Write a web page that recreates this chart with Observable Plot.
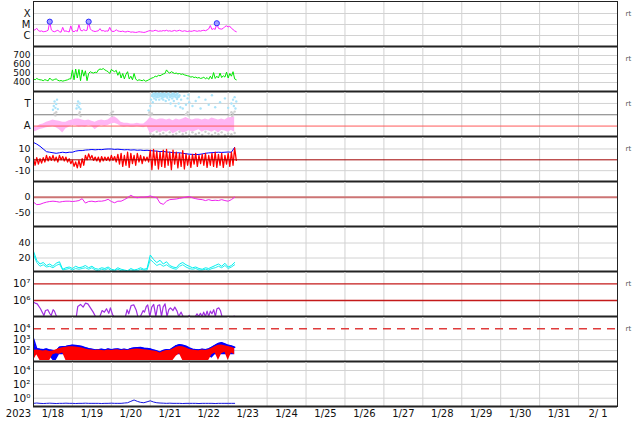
<!DOCTYPE html>
<html><head><meta charset="utf-8">
<script src="https://cdn.jsdelivr.net/npm/d3@7"></script>
<script src="https://cdn.jsdelivr.net/npm/@observablehq/plot@0.6"></script>
<style>
html,body{margin:0;padding:0;background:#fff;}
#chart{position:relative;width:634px;height:424px;overflow:hidden;background:#fff;}
#chart svg{position:absolute;left:0;}
</style></head><body><div id="chart"></div>
<script>
// ---------- time axis ----------
const T0 = Date.UTC(2023, 0, 18);
const HOUR = 3600000;
const yearLabel = "2023";
const dayLabels = ["1/18","1/19","1/20","1/21","1/22","1/23","1/24","1/25","1/26","1/27","1/28","1/29","1/30","1/31","2/ 1"];

// ---------- panel 1: X-ray flux (1e-6 W/m2), hourly from 1/18 00UT ----------
const xrayTicks = [1, 10, 100];
const xrayLabels = ["C", "M", "X"];
const xrayFlux = [3.0,3.3,4.5,2.8,2.4,2.6,2.2,2.3,2.5,3.0,18,3.2,2.4,2.2,2.6,3.0,2.2,2.0,5.5,2.4,
 2.6,2.3,2.1,7.5,2.5,2.2,2.8,2.4,9.5,3.0,2.6,3.4,2.8,3.0,18,4.0,2.8,2.5,2.3,2.5,
 2.7,4.2,2.6,2.8,2.4,2.6,2.5,5.5,2.6,2.3,2.5,3.3,2.6,2.4,2.3,2.5,2.2,2.1,2.4,2.3,
 2.0,2.1,2.0,1.9,2.0,2.2,2.1,2.0,1.9,2.0,2.3,2.6,2.8,2.5,2.6,3.0,2.7,2.4,2.6,2.5,
 2.8,2.6,3.0,2.5,2.7,2.4,2.6,2.9,2.5,2.7,3.0,2.6,2.4,2.7,2.5,2.3,2.6,2.4,2.5,2.8,
 2.6,2.4,2.7,2.5,2.8,3.0,2.7,3.2,4.0,8.0,3.5,4.2,3.6,13,4.5,4.0,3.8,4.5,6.5,7.5,
 6.0,7.0,4.5,3.5,2.6,2.2];
const flareHours = [10, 34, 113];
const flareFlux = [18, 18, 13];

// ---------- panel 2: solar wind speed (km/s), hourly ----------
const speedTicks = [400, 500, 600, 700];
const speed = [440,430,445,435,430,428,420,432,425,418,450,430,425,435,440,425,418,422,415,420,
 425,430,440,440,540,430,550,450,545,420,540,470,530,420,500,520,510,505,515,510,
 540,550,545,555,540,530,520,500,545,530,520,535,480,520,450,500,440,490,520,440,
 470,430,500,440,420,430,425,420,430,415,420,430,440,450,455,470,465,480,475,485,
 495,500,540,515,505,520,510,500,505,495,500,490,495,485,480,475,470,460,465,455,
 460,450,455,445,450,460,440,455,435,470,440,510,445,470,450,505,455,475,460,515,
 450,500,470,520,440,430];

// ---------- panel 3: IMF phi (deg), sector Away / Toward ----------
const phiTicks = [90, 270];
const phiLabels = ["A", "T"];
const awayLo = [41,50,62,68,76,81,86,76,60,35,68,81,94,94,81,86,81,94,86,60,81,94,86,94,107,112,102,86,81,86,81,81,86,81,76,86,29,41,55,35,50,41,55,29,41,55,35,41,55,41,50,60,41,55,50,41,55,35,55,50,41,55,41];
const awayHi = [87,81,100,107,120,128,138,133,128,120,120,133,138,146,146,138,133,138,128,120,133,138,133,138,159,164,146,120,112,112,107,107,112,107,107,128,159,146,138,146,146,138,146,133,146,138,146,159,146,138,146,146,138,146,138,154,146,138,146,138,154,159,164];
const towardHours = [12,12.5,13,13.5,14,14.5,15, 26.5,27,27.5,28,28.5,29,
 71,72,72.5,73,73.5,74,74.5,75,75.5,76,76.5,77,77.5,78,78.5,79,79.5,80,80.5,81,81.5,82,82.5,83,83.5,84,84.5,85,85.5,86,86.5,87,87.5,88,88.5,89,89.5,90,90.5,91,92,93,94,95,95.5,96,
 98,100,102,103,106,108,110,112,115,118,120,122,123,123.5,124,124.5,125,
 73.25,73.75,74.25,74.75,75.25,75.75,76.25,76.75,77.25,77.75,78.25,78.75,79.25,79.75,80.25,80.75,81.25,81.75,82.25,82.75,83.25,83.75,84.25,84.75,85.25,85.75,86.25,86.75,87.25,87.75,88.25,88.75,89.25,89.75];
const towardPhi = [220,250,285,235,265,300,225, 230,255,285,240,270,225,
 215,250,300,330,280,345,310,335,300,340,320,345,300,330,345,310,335,300,345,325,290,340,315,345,300,330,270,340,310,345,290,330,250,340,305,320,270,335,240,300,230,330,260,310,340,280,
 250,290,320,230,300,260,335,240,280,310,235,270,300,250,320,230,285,
 340,325,350,330,345,320,350,335,340,325,350,330,345,320,335,350,340,330,325,345,350,335,320,340,330,350,325,345,335,320,340,350,330,325];
const grayHours = [13,13.5,14,28,28.5,29,47,48,48.5,49,71,71.5,72,73,94,95,95.5,121,122,122.5,123,124,
 72,74,76,78,80,82,84,86,88,90,92,94,96,98,100,102,104,106,108,110,112,114,116,118,120,122,124];
const grayPhi = [190,175,200,185,200,170,180,195,170,205,180,200,175,190,185,200,175,180,200,170,190,205,
 30,20,45,25,35,15,40,20,30,45,25,35,20,40,25,35,20,45,30,20,35,25,40,20,30,25,35];

// ---------- panel 4: IMF Bt / Bz (nT), 2-hourly ----------
const bTicks = [-10, 0, 10];
const bLabels = ["-10", "0", "10"];
const bt = [16,14.5,12.5,10,7.5,7,6.5,6,6.5,7, 6.5,7,7,8,8.5,8.5,9,9.2,9.5,9.2, 9.5,9.4,9.8,10,10,9.6,9.8,9.5,9.2,9.4,
 9.0,9.2,8.8,9.0,8.6,8.8,8.5,8.2,8.0,7.6, 7.8,7.2,7.0,6.6,6.4,6.5,6.0,5.6,5.2,5.0, 4.8,5.0,5.4,6.0,6.4,6.6,6.8,7.0,6.8,7.0, 7.2,7.0,11.5];
const bzHi = [1,2,1,2,4,3,4,2.5,4,3, 2.5,1,-0.5,-2,-0.5,1,4,5.5,4,2.5, 2.5,3,2.5,2.5,4,3,5,6,4,7,
 6,4,6,4,3,2.5,9,9.5,8,7, 9,9.5,7,9,7,6,8.5,5.5,4,5, 6,4,5,6,4,6,7,5,6,4, 6,7,11];
const bzLo = [-5,-4,-3,-2,-1,-0.5,-1,-2,0,-1, -2,-3.5,-6,-7.5,-7,-5,0,1,-0.5,-1, -2,-1,-0.5,-1,-0.5,-2,-4,-6,-5,-7,
 -3.5,-5,-2,-3.5,-1,-2,-9,-5,-8.5,-6, -7,-5,-9,-4,-7.5,-6,-8.5,-5,-7,-4, -6,-3.5,-5,-7,-5,-6,-7,-5,-7,-4, -6,-5,-0.5];

// ---------- panel 5: Dst (nT), 2-hourly ----------
const dstTicks = [-50, 0];
const dstLabels = ["-50", "0"];
const dst = [-16,-24,-23,-19,-16,-14,-13,-14,-16,-14, -13,-13,-14,-13,-11,-5,-19,-14,-13,-15,
 -13,-13,-11,-7,-14,-18,-13,-13,-8,-2, 6,0,-2,0,0,1,4,0,-2,-19,
 -23,-13,-8,-7,-6,-4,-2,0,2,-2, -5,-7,-8,-11,-8,-11,-10,-11,-8,-11, -13,-8,0];

// ---------- panel 6: cyan pair, 2-hourly ----------
const cyTicks = [20, 40];
const cyanA = [29,17,12,14,10,12,9,13,15,5, 7,8,6,9,7,8,10,7,9,6, 5,7,6,8,5,4,7,5,4,3, 6,4,5,7,5,6,24,18,14,17,
 12,15,10,8,7,12,14,11,9,7, 8,6,5,7,6,8,10,12,9,13, 8,10,14];
const cyanB = [25,14,9,11,8,9,7,10,12,4, 5,6,4,6,5,6,7,5,7,4, 3,5,4,6,3,3,5,3,3,2, 4,3,3,5,4,4,18,14,10,12,
 9,11,8,6,5,9,11,8,6,5, 6,4,4,5,4,6,7,9,7,10, 6,8,11];

// ---------- panel 7: electron flux (segments separated by null) ----------
const elTicks = [1e6, 1e7];
const elLabels = ["10\u2076", "10\u2077"];
const elecHours = [0,1,2.3,4.3,6.4,7.4,8.8,10.1,10.9,12.1,12.9,14.2, null,
 26.5,27.3,29,30.6,32,33.5,35.1,36.8,38.2, null,
 40.9,42.3,43.7,45,46.4,47.4,48.7,49.5, null,
 56.7,57.7,58.7,60.2,61.8,63.4,64.3, null,
 65.9,67.6,68.4,69.6,70.4,71.7,72.9,74.1,75.4,76.6,77.8,78.9,79.9,81.1,82.3,83.4,84.4,86.0,87.1,88.5,89.5,91,92.2, null,
 95.5,96.2, null,
 99.8,100.8,101.8,102.9,103.9,104.9,106,107,108,109,110,111.1,112.1,113.1,114.2,115.2,116.2, null,
 123.2,123.8];
const elecFlux = [7.9e5,7.0e5,6.3e5,3.2e5,1.26e5,2.5e5,2.8e5,1.6e5,1.26e5,2.8e5,2.3e5,1.1e5, null,
 1.26e5,4.4e5,5.8e5,4.0e5,6.9e5,6.3e5,3.6e5,2.0e5,1.1e5, null,
 1.1e5,2.5e5,2.0e5,3.2e5,1.7e5,3.6e5,1.45e5,1.1e5, null,
 1.1e5,2.8e5,1.6e5,5.0e5,5.5e5,2.5e5,1.1e5, null,
 1.1e5,2.5e5,2.0e5,4.5e5,5.5e5,1.1e5,4.0e5,5.8e5,1.1e5,5.0e5,5.5e5,1.1e5,4.0e5,6.3e5,1.1e5,2.8e5,3.6e5,2.5e5,4.0e5,2.3e5,1.1e5,2.0e5,1.1e5, null,
 1.15e5,1.3e5, null,
 1.1e5,1.6e5,1.1e5,1.7e5,1.1e5,2.0e5,1.1e5,2.3e5,1.1e5,2.3e5,1.6e5,2.8e5,1.1e5,3.2e5,3.6e5,2.5e5,1.1e5, null,
 1.1e5,1.15e5];

// ---------- panel 8: proton channels, 2-hourly max / min ----------
const prTicks = [1e2, 1e3, 1e4];
const prLabels = ["10\u00B2", "10\u00B3", "10\u2074"];
const blueHi = [1200,150,130,120,140,110,100,90,200,220, 240,270,300,290,260,230,180,150,130,110,
 120,130,110,140,120,130,140,120,130,110, 150,170,180,190,160,150,140,110,90,70,
 100,120,110,180,280,340,300,250,170,130, 120,110,130,120,140,200,300,450,520,400, 300,260,200];
const blueLo = [60,40,40,40,40,30,12,12,40,40, 40,40,40,40,40,30,40,40,40,40, 40,40,40,40,40,40,40,40,40,40,
 40,40,40,40,40,40,30,20,12,12, 30,40,40,40,40,40,40,40,25,40, 40,40,40,40,30,20,40,40,40,40, 40,40,40];
const redHi = [100,110,100,90,100,80,90,120,150,180, 200,220,220,210,190,170,140,120,110,100,
 110,100,95,110,100,110,120,100,110,100, 120,130,140,130,120,110,100,90,80,60,
 80,100,100,140,200,230,220,180,130,110, 100,95,110,100,120,160,230,300,330,280, 230,200,150];
const redLo = [12,40,12,12,12,12,40,50,45,60, 12,12,12,12,12,12,12,12,12,12, 12,12,12,12,12,12,12,12,12,12,
 12,12,12,12,12,12,12,12,12,12, 12,12,12,12,30,50,12,12,12,12, 12,12,12,12,12,40,60,12,50,70, 12,60,40];

// ---------- panel 9: high-energy channel, 2-hourly ----------
const hiTicks = [1, 1e2, 1e4];
const hiLabels = ["10\u2070", "10\u00B2", "10\u2074"];
const hiFlux = [0.18,0.2,0.18,0.17,0.18,0.19,0.18,0.17,0.18,0.18, 0.19,0.18,0.18,0.17,0.18,0.18,0.19,0.18,0.18,0.18,
 0.18,0.17,0.18,0.18,0.19,0.18,0.18,0.18,0.2,0.22, 0.35,0.55,0.35,0.25,0.22,0.3,0.42,0.28,0.22,0.2,
 0.19,0.18,0.19,0.18,0.18,0.18,0.17,0.18,0.18,0.18, 0.18,0.17,0.18,0.18,0.18,0.18,0.17,0.18,0.18,0.18, 0.18,0.18,0.18];

// ---------- helpers ----------
const t = h => (h == null ? null : new Date(T0 + h * HOUR));
const xDomain = [t(0), t(15 * 24)];
const dayTicks = dayLabels.map((_, i) => t(i * 24 + 12));
const dayLines = d3.range(1, 15).map(i => t(i * 24));
const series = (arr, step) => arr.map((v, i) => ({t: t(i * step), v}));
const band = (lo, hi) => lo.map((v, i) => ({t: t(2 * i), lo: v, hi: hi[i]}));
const zigzag = (hi, lo) => hi.flatMap((v, i) => [{t: t(2 * i), v}, {t: t(2 * i + 1), v: lo[i]}]);
const GRID = "#d2d2d2";

function panel(k, {y, ticks, labels, marks, rt = false, last = false, fs = "9.5px"}) {
  const extra = last ? 18 : 0;
  const fmt = d => (labels ? labels[ticks.indexOf(d)] : String(d)) ?? "";
  const plot = Plot.plot({
    width: 634, height: 45 + extra,
    marginLeft: 33, marginRight: 17, marginTop: 0, marginBottom: extra,
    style: {fontFamily: "'DejaVu Sans', sans-serif", fontSize: fs, background: "transparent", overflow: "visible", color: "#111"},
    x: {type: "utc", domain: xDomain, axis: null},
    y: {...y, ticks, tickFormat: fmt, tickSize: 0, tickPadding: 3, label: null},
    marks: [
      Plot.ruleX(dayLines, {stroke: GRID}),
      ...marks,
      Plot.frame({stroke: "#222"}),
      Plot.ruleY([y.domain[0]], {stroke: "#222", strokeWidth: 2.2}),
      rt ? Plot.text(["rt"], {frameAnchor: "top-right", dx: 8, dy: 10, textAnchor: "start", fontSize: 7, fill: "#555"}) : null,
      last ? Plot.text(dayTicks, {x: d => d, text: (d, i) => dayLabels[i], frameAnchor: "bottom", dy: 10.5, fontSize: 10, fill: "#111"}) : null,
      last ? Plot.text([yearLabel], {frameAnchor: "bottom-left", dx: -15, dy: 10.5, textAnchor: "middle", fontSize: 10, fill: "#111"}) : null
    ].filter(Boolean)
  });
  plot.style.top = (1 + 45 * k) + "px";
  document.getElementById("chart").append(plot);
}

// 1: X-ray
panel(0, {y: {type: "log", domain: [0.1, 1230]}, ticks: xrayTicks, labels: xrayLabels, rt: true, fs: "10px", marks: [
  Plot.ruleY(xrayTicks, {stroke: GRID}),
  Plot.line(series(xrayFlux, 1), {x: "t", y: "v", stroke: "#ff1fff", strokeWidth: 1, clip: true}),
  Plot.dot(flareHours.map((h, i) => ({t: t(h), v: flareFlux[i]})), {x: "t", y: "v", r: 2.6, fill: "#a0a0ff", stroke: "#2b2bff", strokeWidth: 1})
]});

// 2: speed
panel(1, {y: {domain: [300, 800]}, ticks: speedTicks, rt: true, fs: "9px", marks: [
  Plot.ruleY(speedTicks, {stroke: GRID}),
  Plot.line(series(speed, 1), {x: "t", y: "v", stroke: "#00e800", strokeWidth: 1, clip: true})
]});

// 3: phi
panel(2, {y: {domain: [7, 365]}, ticks: phiTicks, labels: phiLabels, rt: true, fs: "10px", marks: [
  Plot.ruleY([270], {stroke: GRID}),
  Plot.ruleY([180], {stroke: "#7a7a7a"}),
  Plot.areaY(band(awayLo, awayHi), {x: "t", y1: "lo", y2: "hi", fill: "#ffb6f4", clip: true}),
  Plot.dot(grayHours.map((h, i) => ({t: t(h), v: grayPhi[i]})), {x: "t", y: "v", r: 1.2, fill: "#cfcfcf", clip: true}),
  Plot.dot(towardHours.map((h, i) => ({t: t(h), v: towardPhi[i]})), {x: "t", y: "v", r: 1.2, fill: "#a9e3fa", clip: true}),
  Plot.ruleY([90], {stroke: "#ff5a5a"})
]});

// 4: IMF
panel(3, {y: {domain: [-20, 21.5]}, ticks: bTicks, labels: bLabels, rt: true, marks: [
  Plot.ruleY([-10, 10], {stroke: GRID}),
  Plot.line(series(bt, 2), {x: "t", y: "v", stroke: "#0000ff", strokeWidth: 1, clip: true}),
  Plot.line(zigzag(bzHi, bzLo), {x: "t", y: "v", stroke: "#ff0000", strokeWidth: 1.3, clip: true}),
  Plot.ruleY([0], {stroke: "#a00000"})
]});

// 5: Dst
panel(4, {y: {domain: [-94, 50]}, ticks: dstTicks, labels: dstLabels, marks: [
  Plot.ruleY([-50], {stroke: GRID}),
  Plot.ruleY([0], {stroke: "#cc7474", strokeWidth: 2}),
  Plot.line(series(dst, 2), {x: "t", y: "v", stroke: "#ee22ee", strokeWidth: 1, clip: true})
]});

// 6: cyan pair
panel(5, {y: {domain: [2, 62]}, ticks: cyTicks, marks: [
  Plot.ruleY(cyTicks, {stroke: GRID}),
  Plot.line(series(cyanB, 2), {x: "t", y: "v", stroke: "#22eeee", strokeWidth: 1, clip: true}),
  Plot.line(series(cyanA, 2), {x: "t", y: "v", stroke: "#00f0f0", strokeWidth: 1, clip: true})
]});

// 7: electrons
panel(6, {y: {type: "log", domain: [1.096e5, 5.5e7]}, ticks: elTicks, labels: elLabels, rt: true, fs: "10.5px", marks: [
  Plot.ruleY(elTicks, {stroke: "#c41a1a", strokeWidth: 1.3}),
  Plot.line(elecHours.map((h, i) => ({t: t(h), v: elecFlux[i]})), {x: "t", y: "v", stroke: "#a02ee0", strokeWidth: 1.2, clip: true})
]});

// 8: protons
panel(7, {y: {type: "log", domain: [9.8, 1.35e5]}, ticks: prTicks, labels: prLabels, rt: true, fs: "10.5px", marks: [
  Plot.ruleY([1e2, 1e3], {stroke: GRID}),
  Plot.ruleY([1e4], {stroke: "#e03c3c", strokeWidth: 1.5, strokeDasharray: "8,6"}),
  Plot.areaY(band(blueLo, blueHi), {x: "t", y1: "lo", y2: "hi", fill: "#0000ff", clip: true}),
  Plot.line(series(blueHi, 2), {x: "t", y: "v", stroke: "#0000ff", strokeWidth: 1.5, clip: true}),
  Plot.areaY(band(redLo, redHi), {x: "t", y1: "lo", y2: "hi", fill: "#ff0000", clip: true})
]});

// 9: high-energy
panel(8, {y: {type: "log", domain: [0.063, 2e5]}, ticks: hiTicks, labels: hiLabels, last: true, fs: "10.5px", marks: [
  Plot.ruleY(hiTicks, {stroke: GRID}),
  Plot.line(series(hiFlux, 2), {x: "t", y: "v", stroke: "#1515e0", strokeWidth: 1, clip: true})
]});
</script></body></html>
